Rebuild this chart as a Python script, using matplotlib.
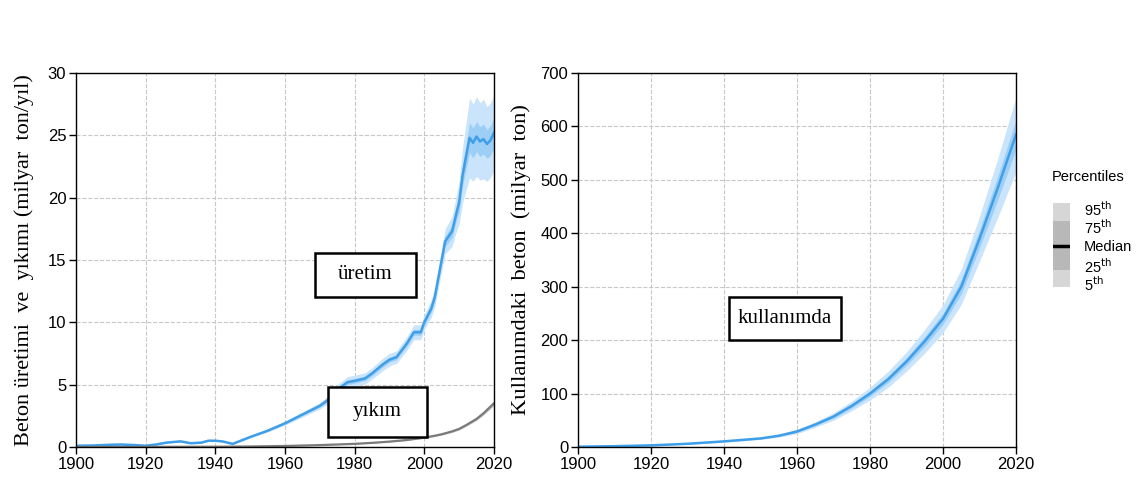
import numpy as np
import matplotlib.pyplot as plt
from matplotlib.patches import Rectangle

# Veriler
prod_years = [1900, 1905, 1910, 1913, 1917, 1920, 1923, 1926, 1930, 1933, 1936, 1938, 1940, 1942, 1945,
              1950, 1955, 1960, 1965, 1970, 1972, 1975, 1978, 1980, 1983, 1985, 1988, 1990, 1992, 1995,
              1997, 1999, 2000, 2002, 2003, 2004, 2005, 2006, 2007, 2008, 2009, 2010, 2011, 2012, 2013,
              2014, 2015, 2016, 2017, 2018, 2019, 2020]
prod_median = [0.10, 0.12, 0.18, 0.20, 0.15, 0.10, 0.20, 0.35, 0.45, 0.30, 0.35, 0.50, 0.50, 0.45, 0.25,
               0.80, 1.30, 1.90, 2.60, 3.30, 3.70, 4.60, 5.20, 5.30, 5.50, 5.90, 6.60, 7.00, 7.20, 8.30,
               9.20, 9.20, 10.0, 11.1, 12.0, 13.5, 15.0, 16.5, 16.9, 17.3, 18.5, 19.6, 21.8, 23.3, 24.8,
               24.4, 24.9, 24.5, 24.7, 24.3, 24.6, 25.2]
prod_w90 = [0.05, 0.05, 0.05, 0.05, 0.05, 0.05, 0.05, 0.05, 0.05, 0.05, 0.05, 0.05, 0.05, 0.05, 0.05,
            0.08, 0.10, 0.15, 0.20, 0.25, 0.30, 0.40, 0.45, 0.45, 0.45, 0.45, 0.50, 0.50, 0.50, 0.55,
            0.60, 0.60, 0.60, 0.70, 0.75, 0.80, 0.90, 1.00, 1.10, 1.20, 1.40, 1.70, 2.20, 2.70, 3.20,
            3.10, 3.20, 3.10, 3.20, 3.00, 3.00, 3.00]
prod_w50 = [0.02, 0.02, 0.02, 0.02, 0.02, 0.02, 0.02, 0.02, 0.02, 0.02, 0.02, 0.02, 0.02, 0.02, 0.02,
            0.03, 0.04, 0.06, 0.08, 0.10, 0.12, 0.16, 0.18, 0.18, 0.18, 0.18, 0.20, 0.20, 0.20, 0.22,
            0.24, 0.24, 0.24, 0.28, 0.30, 0.32, 0.36, 0.40, 0.45, 0.50, 0.55, 0.70, 0.85, 1.00, 1.20,
            1.20, 1.20, 1.20, 1.20, 1.15, 1.20, 1.20]

dem_years = [1900, 1920, 1940, 1950, 1960, 1970, 1980, 1985, 1990, 1995, 2000, 2003, 2005, 2008,
             2010, 2012, 2015, 2017, 2020]
dem_median = [0.0, 0.01, 0.02, 0.04, 0.08, 0.15, 0.25, 0.33, 0.43, 0.56, 0.75, 0.90, 1.02, 1.25,
              1.45, 1.75, 2.25, 2.70, 3.50]
dem_w90 = [0.0, 0.0, 0.01, 0.01, 0.01, 0.02, 0.02, 0.03, 0.03, 0.04, 0.05, 0.06, 0.07, 0.08,
           0.09, 0.10, 0.12, 0.14, 0.18]

stock_years = [1900, 1910, 1920, 1930, 1940, 1950, 1955, 1960, 1965, 1970, 1975, 1980, 1985, 1990,
               1995, 2000, 2005, 2010, 2015, 2020]
stock_median = [0.5, 1.5, 3, 6, 10.5, 16, 21, 29, 42, 57, 77, 100, 127, 160, 198, 240, 300, 390, 485, 585]
stock_w90 = [0.2, 0.4, 0.8, 1.2, 1.5, 2, 2.5, 4, 5, 7, 9, 12, 15, 18, 22, 26, 33, 42, 55, 70]
stock_w50 = [0.1, 0.2, 0.3, 0.5, 0.6, 0.8, 1, 1.6, 2, 3, 4, 5, 6, 7, 9, 10, 13, 17, 22, 28]

# Renkler
blue_line = "#3f9ee8"
blue_90 = "#c9e4fb"
blue_50 = "#9dcff6"

plt.rcParams['font.family'] = ['Liberation Sans', 'DejaVu Sans']

fig = plt.figure(figsize=(11.46, 4.8), dpi=100)
ax1 = fig.add_axes([0.0663, 0.0688, 0.3647, 0.7792])
ax2 = fig.add_axes([0.5044, 0.0688, 0.3822, 0.7792])


def band(ax, x, med, w, color):
    med = np.array(med)
    w = np.array(w)
    ax.fill_between(x, med - w, med + w, color=color, linewidth=0)


# Sol grafik: üretim ve yıkım
band(ax1, prod_years, prod_median, prod_w90, blue_90)
band(ax1, prod_years, prod_median, prod_w50, blue_50)
ax1.plot(prod_years, prod_median, color=blue_line, linewidth=1.8)
band(ax1, dem_years, dem_median, dem_w90, "#c8c8c8")
ax1.plot(dem_years, dem_median, color="#7a7a7a", linewidth=1.6)
ax1.set_ylim(0, 30)
ax1.set_yticks([0, 5, 10, 15, 20, 25, 30])
ax1.set_ylabel("Beton üretimi  ve  yıkımı (milyar  ton/yıl)", family="Liberation Serif",
               fontsize=16, labelpad=10)

# Sağ grafik: kullanımdaki beton
band(ax2, stock_years, stock_median, stock_w90, blue_90)
band(ax2, stock_years, stock_median, stock_w50, blue_50)
ax2.plot(stock_years, stock_median, color=blue_line, linewidth=1.8)
ax2.set_ylim(0, 700)
ax2.set_yticks([0, 100, 200, 300, 400, 500, 600, 700])
ax2.set_ylabel("Kullanımdaki  beton  (milyar  ton)", family="Liberation Serif", fontsize=16.2,
               labelpad=7)

for ax in (ax1, ax2):
    ax.set_xlim(1900, 2020)
    ax.set_xticks([1900, 1920, 1940, 1960, 1980, 2000, 2020])
    ax.grid(True, linestyle="--", color="#c8c8c8", linewidth=0.8)
    ax.set_axisbelow(True)
    ax.tick_params(labelsize=12, length=5, width=1, pad=2)
    for s in ax.spines.values():
        s.set_linewidth(1.0)

# Kutulu etiketler
def box_label(ax, x0, y0, w, h, text):
    ax.add_patch(Rectangle((x0, y0), w, h, transform=ax.transAxes, fill=True,
                           facecolor="white", edgecolor="black", linewidth=1.8,
                           clip_on=False, zorder=5))
    ax.text(x0 + w / 2, y0 + h / 2, text, transform=ax.transAxes, ha="center", va="center",
            family="Liberation Serif", fontsize=15, zorder=6)


box_label(ax1, (315 - 76) / 418, (447 - 297) / 374, 101 / 418, 44 / 374, "üretim")
box_label(ax1, (328 - 76) / 418, (447 - 437) / 374, 99 / 418, 50 / 374, "yıkım")
box_label(ax2, (729 - 578) / 438, (447 - 340) / 374, 112 / 438, 43 / 374, "kullanımda")

# Persentil açıklaması
lg = fig.add_axes([1053 / 1146, 1 - 287 / 480, 17 / 1146, 84 / 480])
lg.set_xlim(0, 1)
lg.set_ylim(0, 84)
lg.add_patch(Rectangle((0, 0), 1, 84, facecolor="#d6d6d6", linewidth=0))
lg.add_patch(Rectangle((0, 17), 1, 49, facecolor="#b8b8b8", linewidth=0))
lg.plot([0, 1], [41, 41], color="black", linewidth=2.5)
lg.axis("off")
fig.text(1052 / 1146, 1 - 177 / 480, "Percentiles", fontsize=10.5, va="center")
leg_labels = ["95$^{\\mathrm{th}}$", "75$^{\\mathrm{th}}$", "Median", "25$^{\\mathrm{th}}$", "5$^{\\mathrm{th}}$"]
leg_y = [210, 228, 247, 267, 285]
for lab, yy in zip(leg_labels, leg_y):
    fig.text(1084 / 1146, 1 - yy / 480, lab, fontsize=10.5, va="center")

plt.savefig("out.png", dpi=100)
